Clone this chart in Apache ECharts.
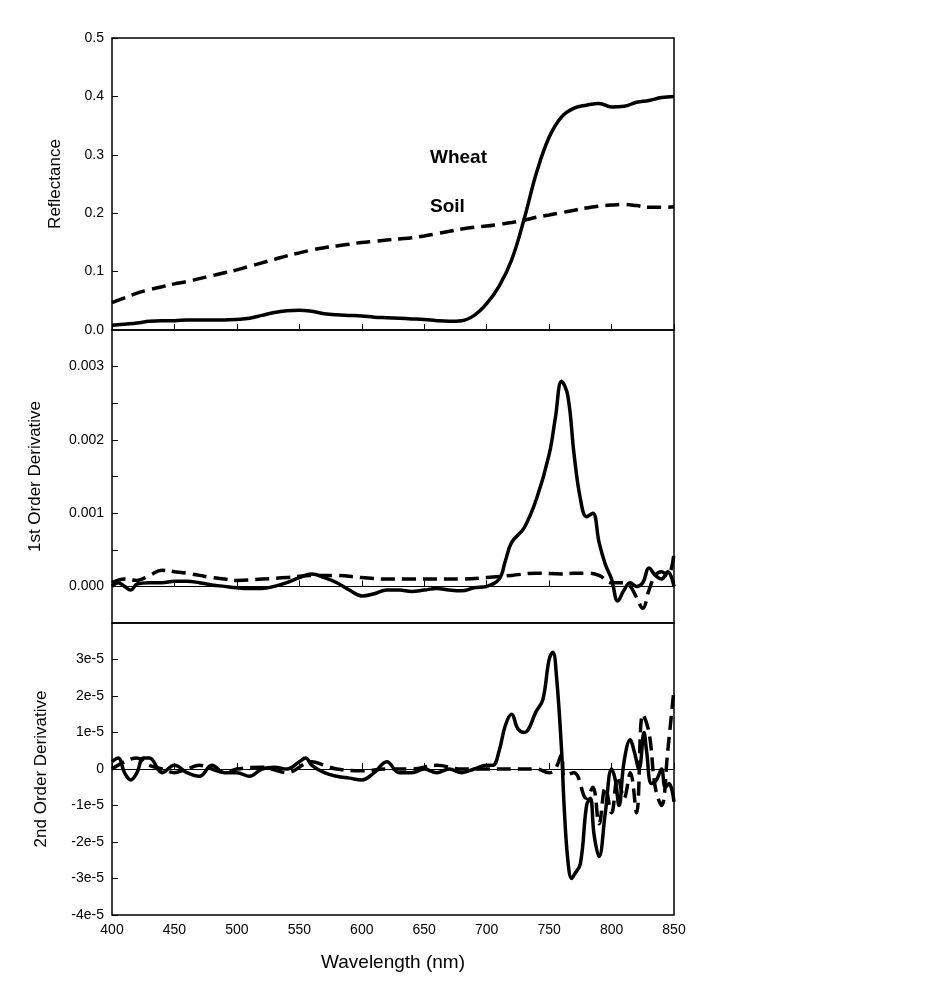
<!DOCTYPE html>
<html>
<head>
<meta charset="utf-8">
<title>Reflectance derivatives</title>
<script src="https://cdn.jsdelivr.net/npm/echarts@6/dist/echarts.min.js"></script>
</head>
<body style="margin:0;background:#fff">
<div id="chart" style="width:946px;height:985px;"></div>
<script type="text/javascript">
// 反射率 (step 10 nm, 400-850)
var wl = [400,410,420,430,440,450,460,470,480,490,500,510,520,530,540,550,560,570,580,590,600,610,620,630,640,650,660,670,680,690,700,710,720,730,740,750,760,770,780,790,800,810,820,830,840,850];
var wheatRefl = [.008,.010,.012,.015,.016,.016,.017,.017,.017,.017,.018,.020,.025,.030,.033,.034,.032,.028,.026,.025,.024,.022,.021,.020,.019,.018,.016,.015,.016,.025,.045,.075,.12,.19,.27,.33,.365,.38,.385,.388,.382,.383,.39,.393,.398,.40];
var soilRefl = [.047,.055,.063,.069,.074,.079,.083,.088,.093,.098,.103,.109,.115,.121,.127,.132,.137,.141,.144,.147,.150,.152,.154,.156,.158,.161,.165,.169,.173,.176,.178,.181,.184,.188,.193,.197,.201,.205,.209,.212,.214,.215,.213,.210,.210,.211];

// 一阶导数 (units of 1e-3)
var wlD1Wheat = [400,405,410,415,420,430,440,450,460,470,480,490,500,510,520,530,540,550,560,570,580,590,600,610,620,630,640,650,660,670,680,690,700,710,715,720,730,740,750,755,760,765,770,775,780,785,790,795,800,805,810,815,820,825,830,835,840,845,850];
var d1Wheat = [0.0,0.05,0.0,-0.05,0.03,0.05,0.05,0.07,0.07,0.05,0.02,0.0,-0.02,-0.03,-0.03,0.0,0.05,0.12,0.17,0.12,0.05,-0.05,-0.13,-0.1,-0.05,-0.05,-0.07,-0.05,-0.03,-0.05,-0.06,-0.02,0.0,0.1,0.35,0.6,0.8,1.2,1.8,2.3,2.8,2.6,1.8,1.2,0.95,1.0,0.6,0.3,0.1,-0.2,-0.05,0.05,0.0,0.05,0.25,0.15,0.1,0.2,0.0];
var wlD1Soil = [400,410,420,430,440,450,460,470,480,490,500,520,540,560,580,600,620,640,660,680,700,720,740,760,770,780,790,800,810,815,820,825,830,835,840,845,850];
var d1Soil = [0.05,0.1,0.08,0.15,0.22,0.2,0.18,0.15,0.12,0.1,0.08,0.1,0.12,0.15,0.15,0.12,0.1,0.1,0.1,0.1,0.12,0.15,0.18,0.17,0.18,0.18,0.15,0.05,0.05,0.0,-0.15,-0.3,-0.05,0.15,0.2,0.15,0.45];

// 二阶导数 (units of 1e-6)
var wlD2Wheat = [400,405,410,415,420,425,430,440,450,460,470,480,490,500,510,520,530,540,550,555,560,570,580,590,600,610,620,630,640,650,660,670,680,690,700,705,710,715,720,725,730,740,745,750,753,756,760,762,765,768,770,775,780,783,786,790,795,800,803,806,810,815,818,822,826,828,832,836,840,843,846,850];
var d2Wheat = [2,3,-1,-3,-1,3,3,-1,1,-1,-2,1,-1,-1,-2,0,0.5,0,2,3,1,-1,-2,-2.5,-3,-1,2,-1,-1,0,-1,0,-1,0,1,1,5,12,15,11,10,16,19,30,32,25,5,-10,-25,-30,-29,-26,-10,-8,-18,-24,-12,0,-3,-10,2,8,5,0,10,5,-4,-3,0,-5,-4,-9];
var wlD2Soil = [400,410,420,430,440,450,460,470,480,490,500,520,540,560,570,580,600,620,640,660,680,700,720,740,750,755,760,762,770,780,785,790,795,800,805,810,815,820,825,830,835,840,845,850];
var d2Soil = [0,2,3,1,0,-1,0,1,0,-1,0,0.5,-1,2,1,0,-0.5,0,0,1,0,0,0,0,-1,0,4,-2,-1,-8,-5,-15,-5,-12,-2,-8,-1,-12,15,10,-5,-10,5,22];

function pairs(xs, ys) { return xs.map(function (x, i) { return [x, ys[i]]; }); }

var FONT = 'Liberation Sans';
var grids = [
    {left:112, width:562, top:38, height:292},
    {left:112, width:562, top:330, height:293},
    {left:112, width:562, top:623, height:292}
];
grids.forEach(function (g) { g.show = true; g.borderColor = '#000'; g.borderWidth = 1.5; });

function xAx(i, showLabels) {
    return {
        type:'value', gridIndex:i, min:400, max:850, interval:50,
        axisLine:{show:false}, splitLine:{show:false},
        axisTick:{show:true, inside:true, length:6, lineStyle:{color:'#000'}},
        axisLabel:{show:showLabels, color:'#000', fontFamily:FONT, fontSize:14, margin:8},
        name: showLabels ? 'Wavelength (nm)' : '', nameLocation:'middle', nameGap:38,
        nameTextStyle:{color:'#000', fontFamily:FONT, fontSize:19, letterSpacing:1.5}
    };
}
function yAx(i, opts) {
    return Object.assign({
        type:'value', gridIndex:i,
        axisLine:{show:false}, splitLine:{show:false},
        axisTick:{show:true, inside:true, length:6, lineStyle:{color:'#000'}},
        nameLocation:'middle',
        nameTextStyle:{color:'#000', fontFamily:FONT, fontSize:17}
    }, opts);
}
var lbl = {color:'#000', fontFamily:FONT, fontSize:14};
var zeroLine = {silent:true, symbol:'none', label:{show:false}, lineStyle:{color:'#000', width:1, type:'solid'}, data:[{yAxis:0}]};
var solid = {color:'#000', width:3.5, type:'solid'};
var dash = {color:'#000', width:3.5, type:[14,7]};

var option = {
    animation:false,
    grid: grids,
    xAxis: [xAx(0,false), xAx(1,false), xAx(2,true)],
    yAxis: [
        yAx(0, {min:0, max:0.5, interval:0.1, name:'Reflectance', nameGap:48,
            axisLabel:Object.assign({formatter:function (v) { return v.toFixed(1); }}, lbl)}),
        yAx(1, {min:-0.5, max:3.5, interval:0.5, name:'1st Order Derivative', nameGap:68,
            axisLabel:Object.assign({formatter:function (v) {
                return (Math.abs(v - Math.round(v)) < 1e-6 && v < 3.4) ? (v / 1000).toFixed(3) : '';
            }}, lbl)}),
        yAx(2, {min:-40, max:40, interval:10, name:'2nd Order Derivative', nameGap:62,
            axisLabel:Object.assign({formatter:function (v) {
                if (v === 40) return '';
                return v === 0 ? '0' : Math.round(v / 10) + 'e-5';
            }}, lbl)})
    ],
    series: [
        {type:'line', xAxisIndex:0, yAxisIndex:0, data:pairs(wl, wheatRefl), smooth:0.4, symbol:'none', lineStyle:solid},
        {type:'line', xAxisIndex:0, yAxisIndex:0, data:pairs(wl, soilRefl), smooth:0.4, symbol:'none', lineStyle:dash},
        {type:'line', xAxisIndex:1, yAxisIndex:1, data:pairs(wlD1Wheat, d1Wheat), smooth:0.4, symbol:'none', lineStyle:solid, markLine:zeroLine},
        {type:'line', xAxisIndex:1, yAxisIndex:1, data:pairs(wlD1Soil, d1Soil), smooth:0.4, symbol:'none', lineStyle:dash},
        {type:'line', xAxisIndex:2, yAxisIndex:2, data:pairs(wlD2Wheat, d2Wheat), smooth:0.4, symbol:'none', lineStyle:solid, markLine:zeroLine},
        {type:'line', xAxisIndex:2, yAxisIndex:2, data:pairs(wlD2Soil, d2Soil), smooth:0.4, symbol:'none', lineStyle:dash}
    ],
    graphic: [
        {type:'text', left:430, top:148, style:{text:'Wheat', font:'bold 19px "Liberation Sans"', fill:'#000', letterSpacing:3}},
        {type:'text', left:430, top:197, style:{text:'Soil', font:'bold 19px "Liberation Sans"', fill:'#000', letterSpacing:3}}
    ]
};
var myChart = echarts.init(document.getElementById('chart'));
myChart.setOption(option);
</script>
</body>
</html>
